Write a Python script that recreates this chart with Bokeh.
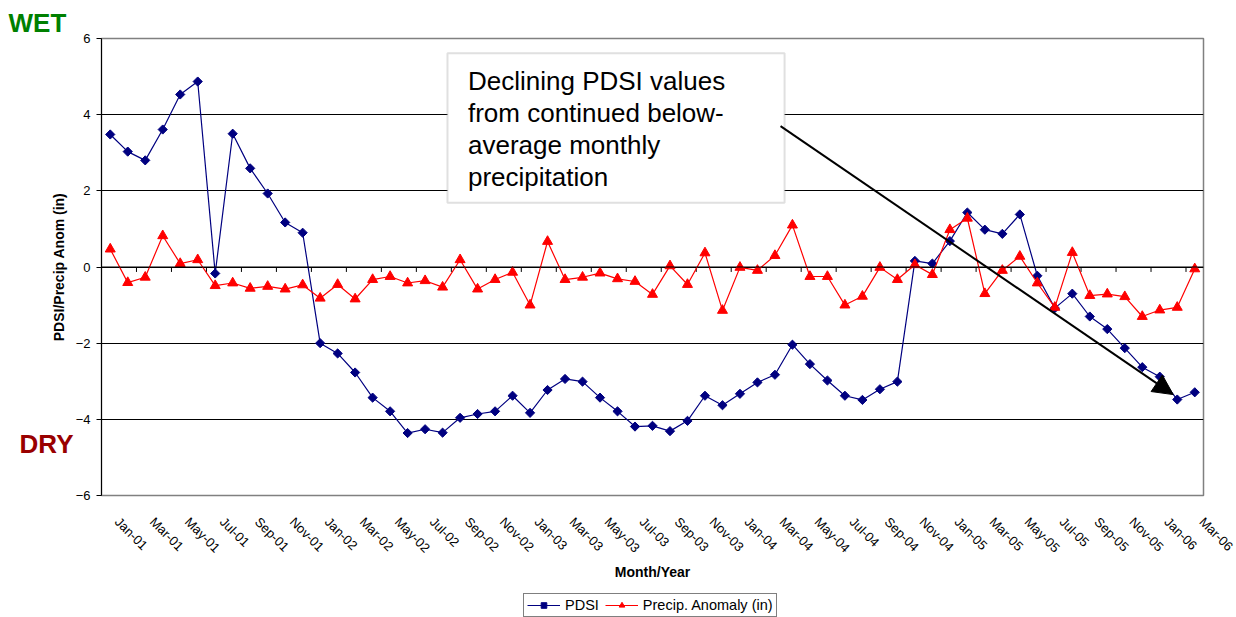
import math
from bokeh.plotting import figure
from bokeh.layouts import column
from bokeh.models import (FixedTicker, Span, Label, BoxAnnotation, Arrow, NormalHead,
                          Legend, LegendItem, LinearAxis, Title)
from bokeh.embed import file_html
from bokeh.resources import INLINE

months = ["Jan-01", "Feb-01", "Mar-01", "Apr-01", "May-01", "Jun-01", "Jul-01", "Aug-01", "Sep-01", "Oct-01", "Nov-01", "Dec-01",
          "Jan-02", "Feb-02", "Mar-02", "Apr-02", "May-02", "Jun-02", "Jul-02", "Aug-02", "Sep-02", "Oct-02", "Nov-02", "Dec-02",
          "Jan-03", "Feb-03", "Mar-03", "Apr-03", "May-03", "Jun-03", "Jul-03", "Aug-03", "Sep-03", "Oct-03", "Nov-03", "Dec-03",
          "Jan-04", "Feb-04", "Mar-04", "Apr-04", "May-04", "Jun-04", "Jul-04", "Aug-04", "Sep-04", "Oct-04", "Nov-04", "Dec-04",
          "Jan-05", "Feb-05", "Mar-05", "Apr-05", "May-05", "Jun-05", "Jul-05", "Aug-05", "Sep-05", "Oct-05", "Nov-05", "Dec-05",
          "Jan-06", "Feb-06", "Mar-06"]

pdsi = [3.48, 3.03, 2.80, 3.61, 4.53, 4.87, -0.17, 3.50, 2.59, 1.93, 1.17, 0.90,
        -2.00, -2.27, -2.77, -3.43, -3.79, -4.36, -4.26, -4.35, -3.96, -3.86, -3.79, -3.38,
        -3.83, -3.23, -2.94, -3.01, -3.43, -3.79, -4.19, -4.17, -4.31, -4.04, -3.38, -3.63,
        -3.33, -3.03, -2.83, -2.04, -2.55, -2.98, -3.38, -3.49, -3.21, -3.01, 0.16, 0.09,
        0.68, 1.43, 0.98, 0.87, 1.38, -0.23, -1.08, -0.70, -1.30, -1.63, -2.13, -2.63,
        -2.88, -3.48, -3.29]

precip = [0.47, -0.41, -0.27, 0.82, 0.09, 0.19, -0.49, -0.42, -0.56, -0.51, -0.58, -0.47,
          -0.82, -0.46, -0.84, -0.33, -0.25, -0.42, -0.36, -0.53, 0.19, -0.58, -0.33, -0.14,
          -1.00, 0.67, -0.33, -0.27, -0.16, -0.31, -0.38, -0.72, 0.03, -0.46, 0.37, -1.14,
          -0.01, -0.09, 0.30, 1.10, -0.25, -0.25, -1.00, -0.77, -0.01, -0.33, 0.06, -0.20,
          0.98, 1.28, -0.70, -0.09, 0.28, -0.42, -1.06, 0.38, -0.75, -0.71, -0.78, -1.30,
          -1.13, -1.06, -0.05]

y_ticks = [-6, -4, -2, 0, 2, 4, 6]
series_names = ["PDSI", "Precip. Anomaly (in)"]
annotation_text = "Declining PDSI values\nfrom continued below-\naverage monthly\nprecipitation"

FONT = "Liberation Sans"
PDSI_COLOR = "#000080"
PRECIP_COLOR = "#FF0000"
n = len(months)
idx = list(range(n))

p = figure(width=1236, height=592, x_range=(-0.5, n - 0.5), y_range=(-6, 6),
           output_backend="svg", toolbar_location=None,
           min_border_left=101, min_border_right=33, min_border_top=38, min_border_bottom=97)
p.background_fill_color = "white"
p.border_fill_color = "white"
p.outline_line_color = "#808080"
p.outline_line_width = 1.5

# y axis
p.yaxis.ticker = FixedTicker(ticks=y_ticks)
p.yaxis.major_label_text_font = FONT
p.yaxis.major_label_text_font_size = "13px"
p.yaxis.major_label_text_color = "black"
p.yaxis.major_tick_out = 5
p.yaxis.major_tick_in = 0
p.yaxis.minor_tick_line_color = None
p.yaxis.axis_line_color = "black"
p.yaxis.major_tick_line_color = "black"
p.yaxis.major_label_standoff = 6
p.yaxis.axis_label = "PDSI/Precip Anom (in)"
p.yaxis.axis_label_text_font = FONT
p.yaxis.axis_label_text_font_style = "bold"
p.yaxis.axis_label_text_font_size = "14px"
p.yaxis.axis_label_text_color = "black"
p.yaxis.axis_label_standoff = 6

# "DRY" marker placed on an outer left axis
dry_y = -4.65
dry_axis = LinearAxis(ticker=FixedTicker(ticks=[dry_y]), major_label_overrides={dry_y: "DRY"},
                      axis_line_color=None, major_tick_line_color=None, minor_tick_line_color=None,
                      major_tick_out=0, major_tick_in=0, major_label_standoff=-26,
                      major_label_text_font=FONT, major_label_text_font_size="26px",
                      major_label_text_font_style="bold", major_label_text_color="#990000")
p.add_layout(dry_axis, "left")

# x axis: labels at every other month, below the plot
even = idx[::2]
shift = 0.4
p.xaxis.ticker = FixedTicker(ticks=[i + shift for i in even])
p.xaxis.major_label_overrides = {i + shift: months[i] for i in even}
p.xaxis.major_label_orientation = -math.pi / 4
p.xaxis.major_label_text_font = FONT
p.xaxis.major_label_text_font_size = "13px"
p.xaxis.major_label_text_color = "black"
p.xaxis.major_tick_line_color = None
p.xaxis.minor_tick_line_color = None
p.xaxis.axis_line_color = None
p.xaxis.major_tick_out = 0
p.xaxis.major_tick_in = 0
p.xaxis.major_label_standoff = 24
p.xaxis.axis_label = "Month/Year"
p.xaxis.axis_label_text_font = FONT
p.xaxis.axis_label_text_font_style = "bold"
p.xaxis.axis_label_text_font_size = "14px"
p.xaxis.axis_label_text_color = "black"
p.xaxis.axis_label_standoff = 0

p.xgrid.grid_line_color = None
p.ygrid.ticker = FixedTicker(ticks=y_ticks)
p.ygrid.grid_line_color = "black"
p.ygrid.grid_line_width = 1

# category axis line at zero with ticks between every other category
p.add_layout(Span(location=0, dimension="width", line_color="black", line_width=1))
tick_x = [k - 0.5 for k in range(0, n, 2)]
p.segment(x0=tick_x, y0=[0] * len(tick_x), x1=tick_x, y1=[-0.13] * len(tick_x),
          line_color="black", line_width=1)

# series
p.line(idx, pdsi, line_color=PDSI_COLOR, line_width=1.2)
p.scatter(idx, pdsi, marker="square", angle=math.pi / 4, size=6.5,
          fill_color=PDSI_COLOR, line_color=PDSI_COLOR)
p.line(idx, precip, line_color=PRECIP_COLOR, line_width=1.2)
p.scatter(idx, precip, marker="triangle", size=10,
          fill_color=PRECIP_COLOR, line_color=PRECIP_COLOR)

# WET marker above the plot
p.add_layout(Title(text="WET", align="left", offset=-93, standoff=2,
                   text_font=FONT, text_font_size="26px", text_font_style="bold",
                   text_color="#008000"), "above")

# annotation box with arrow
p.add_layout(BoxAnnotation(left=19.28, right=38.55, top=5.61, bottom=1.69,
                           fill_color="white", fill_alpha=1.0,
                           line_color="#999999", line_width=2))
p.add_layout(Label(x=20.45, y=5.27, text=annotation_text,
                   text_font=FONT, text_font_size="26px", text_color="black",
                   text_baseline="top", text_align="left", text_line_height=1.06))
p.add_layout(Arrow(x_start=38.32, y_start=3.70, x_end=60.77, y_end=-3.35,
                   line_color="black", line_width=2,
                   end=NormalHead(size=20, fill_color="black", line_color="black")))

# legend strip below the chart (same series, drawn out of view; only the legend shows)
lg = figure(width=1236, height=25, x_range=(-0.5, n - 0.5), y_range=(50, 51),
            output_backend="svg", toolbar_location=None,
            min_border_left=0, min_border_right=0, min_border_top=0, min_border_bottom=0,
            x_axis_type=None, y_axis_type=None)
lg.outline_line_color = None
lg.grid.grid_line_color = None
lg.background_fill_color = "white"
lg.border_fill_color = "white"
gl1 = lg.line(idx, pdsi, line_color=PDSI_COLOR, line_width=1.2)
gs1 = lg.scatter(idx, pdsi, marker="square", angle=math.pi / 4, size=6.5,
                 fill_color=PDSI_COLOR, line_color=PDSI_COLOR)
gl2 = lg.line(idx, precip, line_color=PRECIP_COLOR, line_width=1.2)
gs2 = lg.scatter(idx, precip, marker="triangle", size=9,
                 fill_color=PRECIP_COLOR, line_color=PRECIP_COLOR)
legend = Legend(items=[LegendItem(label=series_names[0], renderers=[gl1, gs1]),
                       LegendItem(label=series_names[1], renderers=[gl2, gs2])],
                orientation="horizontal", location=(422, 0),
                label_text_font=FONT, label_text_font_size="14.5px", label_text_color="black",
                glyph_width=33, glyph_height=14, label_standoff=5, spacing=6,
                padding=3, margin=0, border_line_color="black", border_line_width=1,
                background_fill_color="white", label_height=14)
lg.add_layout(legend, "center")

layout = column(p, lg, spacing=0)
open("out.html", "w").write(file_html(layout, INLINE))
